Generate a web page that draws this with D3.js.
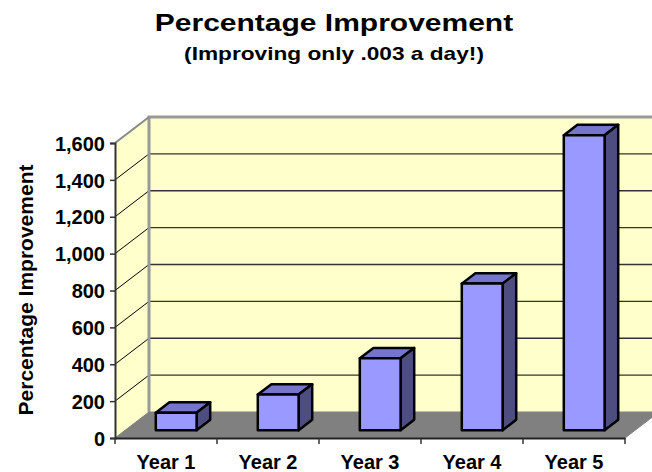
<!DOCTYPE html>
<html lang="en">
<head>
	<meta charset="UTF-8">
	<title>Percentage Improvement</title>
	<script src="https://cdnjs.cloudflare.com/ajax/libs/d3/7.8.5/d3.min.js"></script>
	<style>
		body { margin: 0; background: #fff; }
		text { font-family: Arial, "Liberation Sans", sans-serif; font-weight: bold; fill: #000; }
	</style>
</head>
<body>
	<svg id="chart"></svg>
	<script>
var years = ["Year 1", "Year 2", "Year 3", "Year 4", "Year 5"]
var improvement = [95, 193, 390, 795, 1600]
var yTicks = [0, 200, 400, 600, 800, 1000, 1200, 1400, 1600]

var W = 652, H = 472
// depth offset of the 3d box (front plane -> back wall)
var dx = 34, dy = -26

var svg = d3.select("#chart")
  .attr("width", W)
  .attr("height", H)

var x = d3.scaleBand().domain(years).range([115, 625])
var y = d3.scaleLinear().domain([0, 1600]).range([438, 143])

var left = x.range()[0], right = x.range()[1]
var y0 = y(0), yTop = y(1600)

// back wall
svg.append("rect")
  .attr("x", left + dx).attr("y", yTop + dy)
  .attr("width", right - left).attr("height", y0 - yTop)
  .attr("fill", "#ffffcc")

// side wall
svg.append("polygon")
  .attr("points", [[left, y0], [left, yTop], [left + dx, yTop + dy], [left + dx, y0 + dy]].join(" "))
  .attr("fill", "#ffffcc")

// gridlines
var grid = yTicks.filter(function(d) { return d > 0 && d < 1600 })
svg.selectAll(".gback").data(grid).enter()
  .append("line")
  .attr("x1", left + dx).attr("x2", right + dx)
  .attr("y1", function(d) { return y(d) + dy }).attr("y2", function(d) { return y(d) + dy })
  .attr("stroke", "#333").attr("stroke-width", 1.3)
svg.selectAll(".gside").data(grid).enter()
  .append("line")
  .attr("x1", left).attr("x2", left + dx)
  .attr("y1", function(d) { return y(d) }).attr("y2", function(d) { return y(d) + dy })
  .attr("stroke", "#000").attr("stroke-width", 1)

// wall borders
svg.append("path")
  .attr("d", "M" + (left + dx) + "," + (y0 + dy) + "V" + (yTop + dy) + "H" + (right + dx + 10))
  .attr("fill", "none").attr("stroke", "#999").attr("stroke-width", 3)
svg.append("line")
  .attr("x1", left).attr("y1", yTop).attr("x2", left + dx).attr("y2", yTop + dy)
  .attr("stroke", "#888").attr("stroke-width", 2)

// floor
svg.append("polygon")
  .attr("points", [[left, y0], [right, y0], [right + dx, y0 + dy], [left + dx, y0 + dy]].join(" "))
  .attr("fill", "#808080")
  .attr("stroke", "#808080").attr("stroke-width", 1)

// bars
var bw = x.bandwidth() / 2.5
var f0 = 0.3, f1 = 0.7
var fx = f0 * dx, fy = f0 * dy
var bx = (f1 - f0) * dx, by = (f1 - f0) * dy
var data = years.map(function(d, i) { return { year: d, value: improvement[i] } })

var bars = svg.selectAll(".bar").data(data).enter()
  .append("g")
  .attr("transform", function(d) {
    return "translate(" + (x(d.year) + x.bandwidth() / 2 - bw / 2 + fx) + "," + fy + ")"
  })

bars.append("polygon")
  .attr("points", function(d) {
    var t = y(d.value)
    return [[0, t], [bw, t], [bw + bx, t + by], [bx, t + by]].join(" ")
  })
  .attr("fill", "#7575cc")
bars.append("polygon")
  .attr("points", function(d) {
    var t = y(d.value)
    return [[bw, t], [bw + bx, t + by], [bw + bx, y0 + by], [bw, y0]].join(" ")
  })
  .attr("fill", "#4d4d80")
bars.append("rect")
  .attr("x", 0).attr("width", bw)
  .attr("y", function(d) { return y(d.value) })
  .attr("height", function(d) { return y0 - y(d.value) })
  .attr("fill", "#9999ff")
bars.selectAll("polygon, rect")
  .attr("stroke", "#000").attr("stroke-width", 2.5).attr("stroke-linejoin", "round")

// y axis
var yAxis = svg.append("g")
  .attr("transform", "translate(" + left + ",0)")
  .call(d3.axisLeft(y).tickValues(yTicks).tickFormat(d3.format(",")).tickSize(5).tickPadding(5))
yAxis.select(".domain").attr("stroke", "#333").attr("stroke-width", 2)
yAxis.selectAll(".tick line").attr("stroke", "#333").attr("stroke-width", 1.5)
yAxis.selectAll("text").style("font-size", "20px").attr("dy", "0.36em")

// x axis
var xAxis = svg.append("g")
  .attr("transform", "translate(0," + y0 + ")")
  .call(d3.axisBottom(x).tickSize(0).tickPadding(12))
xAxis.select(".domain").attr("stroke", "#222").attr("stroke-width", 2)
xAxis.selectAll("text").style("font-size", "20px").attr("dy", "0.71em").attr("y", 17)
svg.selectAll(".xtick").data(d3.range(years.length + 1)).enter()
  .append("line")
  .attr("x1", function(i) { return left + i * x.step() })
  .attr("x2", function(i) { return left + i * x.step() })
  .attr("y1", y0).attr("y2", y0 + 6)
  .attr("stroke", "#333").attr("stroke-width", 1.5)

// titles
svg.append("text")
  .attr("transform", "translate(334,31) scale(1.25,1)")
  .attr("text-anchor", "middle")
  .style("font-size", "24px")
  .text("Percentage Improvement")
svg.append("text")
  .attr("transform", "translate(334,60) scale(1.26,1)")
  .attr("text-anchor", "middle")
  .style("font-size", "18px")
  .text("(Improving only .003 a day!)")
svg.append("text")
  .attr("transform", "translate(33,290) rotate(-90)")
  .attr("text-anchor", "middle")
  .style("font-size", "21px")
  .text("Percentage Improvement")
	</script>
</body>
</html>
